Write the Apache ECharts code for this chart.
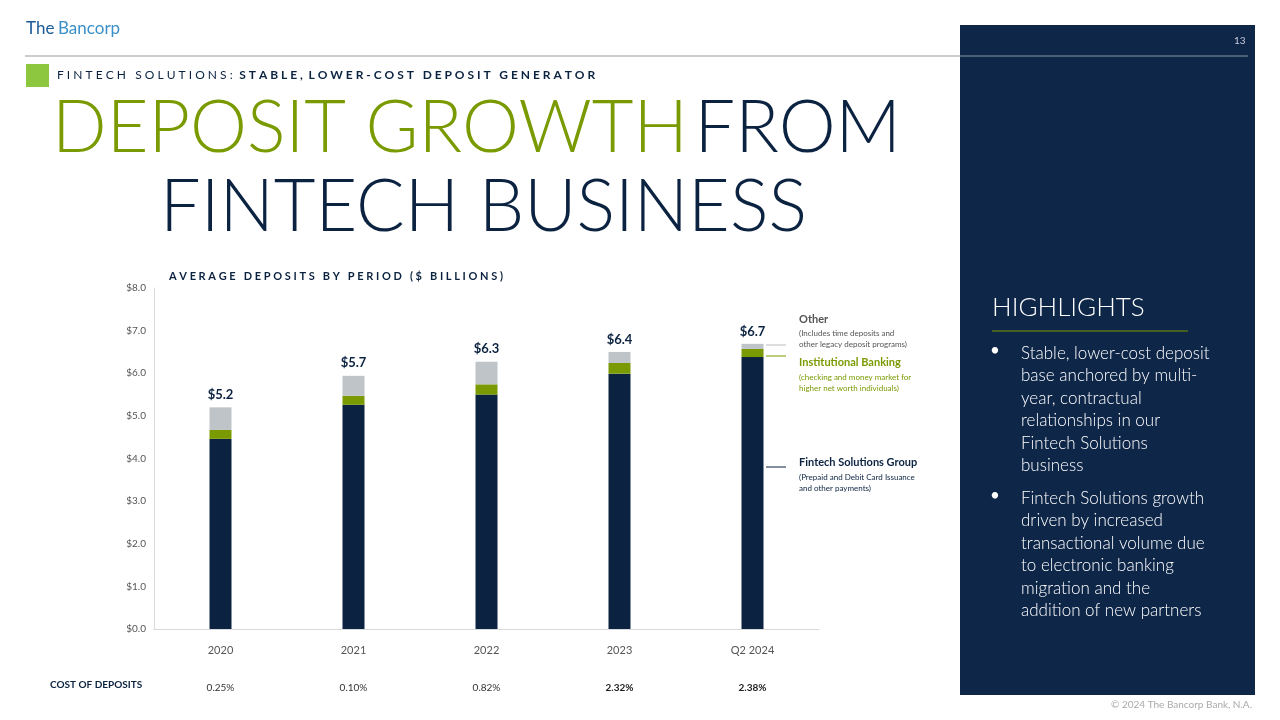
<!DOCTYPE html>
<html><head><meta charset="utf-8">
<script src="https://cdn.jsdelivr.net/npm/echarts@6/dist/echarts.min.js"></script>
<style>html,body{margin:0;padding:0;background:#fff}#c{width:1280px;height:720px}</style>
</head><body><div id="c"></div>
<script>
const categories = ['2020','2021','2022','2023','Q2 2024'];
const fintech = [4.46, 5.26, 5.50, 5.99, 6.38];
const institutional = [0.21, 0.21, 0.24, 0.25, 0.19];
const other = [0.53, 0.47, 0.53, 0.26, 0.12];
const totals = ['$5.2','$5.7','$6.3','$6.4','$6.7'];
const costOfDeposits = ['0.25%','0.10%','0.82%','2.32%','2.38%'];
const yTicks = [0,1,2,3,4,5,6,7,8];

const navy = '#0b2341', green = '#7a9a01', grey = '#bfc4c9';
const F = 'Lato, "Open Sans", sans-serif';
const chart = echarts.init(document.getElementById('c'));
chart.setOption({
  animation:false,
  grid:{left:154,right:461,top:288,bottom:91},
  xAxis:[{type:'category',data:categories,position:'bottom',
    axisLine:{lineStyle:{color:'#d9d9d9'}},axisTick:{show:false},
    axisLabel:{color:'#555',fontSize:11,margin:16,fontFamily:F}},
   {type:'category',data:costOfDeposits,position:'bottom',offset:46,
    axisLine:{show:false},axisTick:{show:false},
    axisLabel:{fontSize:10,fontFamily:F,color:'#333',
      formatter:(v,i)=>i>=3?'{b|'+v+'}':v,rich:{b:{fontWeight:'bold',fontSize:10,color:'#222'}}}}],
  yAxis:{type:'value',min:0,max:8,interval:1,
    axisLine:{show:true,lineStyle:{color:'#d9d9d9'}},splitLine:{show:false},
    axisLabel:{color:'#555',fontSize:10,fontFamily:F,formatter:v=>'$'+v.toFixed(1)}},
  series:[
    {name:'Fintech Solutions Group',type:'bar',stack:'a',data:fintech,barWidth:22,itemStyle:{color:navy}},
    {name:'Institutional Banking',type:'bar',stack:'a',data:institutional,itemStyle:{color:green}},
    {name:'Other',type:'bar',stack:'a',data:other,itemStyle:{color:grey},
     label:{show:true,position:'top',distance:6,formatter:p=>totals[p.dataIndex],color:navy,fontWeight:'bold',fontSize:13,fontFamily:F}}
  ],
  graphic:[
    {type:'rect',shape:{x:960,y:25,width:295,height:670},style:{fill:'#0e2648'}},
    {type:'text',left:992,top:295,style:{text:'HIGHLIGHTS',fill:'#fff',font:'300 26px '+F}},
    {type:'line',shape:{x1:992,y1:331,x2:1188,y2:331},style:{stroke:green,lineWidth:1}},
    {type:'text',left:990,top:342,style:{text:'•',fill:'#fff',font:'17px '+F}},
    {type:'text',left:1021,top:342,style:{text:'Stable, lower-cost deposit\nbase anchored by multi-\nyear, contractual\nrelationships in our\nFintech Solutions\nbusiness',fill:'#fff',font:'300 17px '+F,lineHeight:22.5}},
    {type:'text',left:990,top:487,style:{text:'•',fill:'#fff',font:'17px '+F}},
    {type:'text',left:1021,top:487,style:{text:'Fintech Solutions growth\ndriven by increased\ntransactional volume due\nto electronic banking\nmigration and the\naddition of new partners',fill:'#fff',font:'300 17px '+F,lineHeight:22.5}},
    {type:'text',left:1234,top:36,style:{text:'13',fill:'#ccd',font:'10px '+F}},
    {type:'text',right:28,top:700,style:{text:'© 2024 The Bancorp Bank, N.A.',fill:'#aaa',font:'10px '+F}},
    {type:'text',left:26,top:20,style:{text:'The',fill:'#1a5a96',font:'17px '+F}},
    {type:'text',left:58,top:20,style:{text:'Bancorp',fill:'#3a8fc9',font:'17px '+F}},
    {type:'line',shape:{x1:25,y1:56,x2:960,y2:56},style:{stroke:'#999',lineWidth:1}},
    {type:'line',shape:{x1:960,y1:56,x2:1248,y2:56},style:{stroke:'#8899aa',lineWidth:1}},
    {type:'rect',shape:{x:26,y:64,width:23,height:23},style:{fill:'#8dc63f'}},
    {type:'text',left:57,top:69,style:{rich:{a:{fill:'#0b2341',font:'12px '+F},b:{fill:'#0b2341',font:'bold 12px '+F}},text:'{a|F I N T E C H   S O L U T I O N S :}  {b|S T A B L E ,  L O W E R - C O S T   D E P O S I T   G E N E R A T O R}'}},
    {type:'text',left:52,top:93,style:{rich:{g:{fill:'#7a9a01',font:'300 72px '+F},n:{fill:navy,font:'300 72px '+F}},text:'{g|DEPOSIT GROWTH}  {n|FROM}'}},
    {type:'text',left:160,top:172,style:{text:'FINTECH BUSINESS',fill:navy,font:'300 72px '+F}},
    {type:'text',left:169,top:271,style:{text:'A V E R A G E   D E P O S I T S   B Y   P E R I O D   ( $   B I L L I O N S )',fill:navy,font:'bold 11px '+F}},
    {type:'text',left:50,top:680,style:{text:'COST OF DEPOSITS',fill:navy,font:'bold 10px '+F}},
    {type:'line',shape:{x1:766,y1:345,x2:786,y2:345},style:{stroke:'#bbb'}},
    {type:'line',shape:{x1:766,y1:356,x2:786,y2:356},style:{stroke:green}},
    {type:'line',shape:{x1:766,y1:467,x2:786,y2:467},style:{stroke:navy}},
    {type:'text',left:799,top:314,style:{text:'Other',fill:'#555',font:'bold 11px '+F}},
    {type:'text',left:799,top:328,style:{text:'(Includes time deposits and\nother legacy deposit programs)',fill:'#555',font:'8px '+F,lineHeight:11}},
    {type:'text',left:799,top:357,style:{text:'Institutional Banking',fill:green,font:'bold 11px '+F}},
    {type:'text',left:799,top:372,style:{text:'(checking and money market for\nhigher net worth individuals)',fill:green,font:'8px '+F,lineHeight:11}},
    {type:'text',left:799,top:457,style:{text:'Fintech Solutions Group',fill:navy,font:'bold 11px '+F}},
    {type:'text',left:799,top:472,style:{text:'(Prepaid and Debit Card Issuance\nand other payments)',fill:navy,font:'8px '+F,lineHeight:11}}
  ]
});
</script></body></html>
